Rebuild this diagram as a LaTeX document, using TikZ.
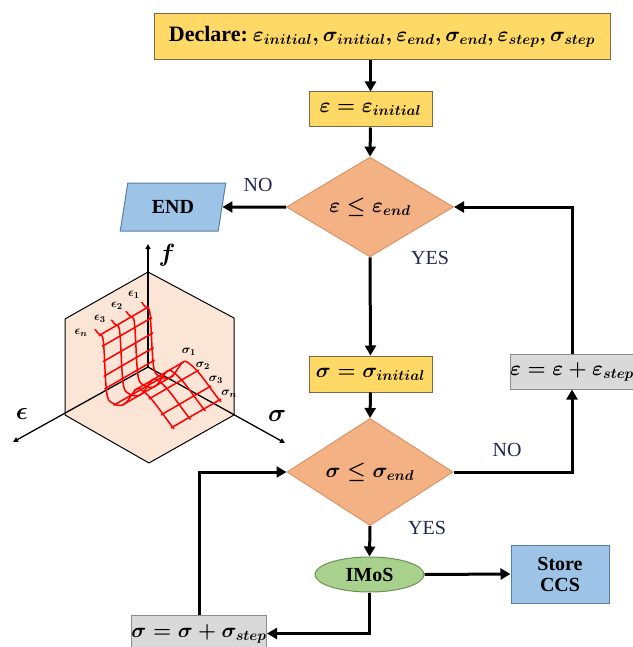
\documentclass[tikz,border=0pt]{standalone}
\usepackage{fontspec}
\setmainfont{Liberation Serif}
\usetikzlibrary{arrows.meta,shapes.geometric}
\definecolor{yfill}{HTML}{FFD966}
\definecolor{ydraw}{HTML}{7A6A45}
\definecolor{ofill}{HTML}{F4B183}
\definecolor{odraw}{HTML}{D9956A}
\definecolor{bfill}{HTML}{9DC3E6}
\definecolor{bdraw}{HTML}{5A7FA3}
\definecolor{gfill}{HTML}{D9D9D9}
\definecolor{gdraw}{HTML}{8C8C8C}
\definecolor{efill}{HTML}{A9D18E}
\definecolor{edraw}{HTML}{6F9055}
\definecolor{hexfill}{HTML}{FBE5D6}
\definecolor{lblcol}{HTML}{1F2850}
\tikzset{
  big/.style={font=\fontsize{20}{23}\selectfont\bfseries\boldmath},
  ybox/.style={big,rectangle,fill=yfill,draw=ydraw,line width=1pt,inner sep=2pt},
  gbox/.style={big,rectangle,fill=gfill,draw=gdraw,line width=1pt,inner sep=2pt},
  bbox/.style={big,rectangle,fill=bfill,draw=bdraw,line width=1pt,inner sep=2pt},
  dia/.style={big,diamond,fill=ofill,draw=odraw,line width=1pt,inner sep=0pt},
  arr/.style={line width=3pt,-{Triangle[width=11pt,length=10pt]}},
  lbl/.style={font=\fontsize{20}{23}\selectfont,text=lblcol,inner sep=0pt},
  small/.style={font=\fontsize{12.5}{13}\selectfont\boldmath,inner sep=0pt},
  axlbl/.style={font=\fontsize{26}{26}\selectfont\boldmath,inner sep=0pt},
  mesh/.style={red,line width=1.5pt,line join=round},
  declare function={
    cl(\s)=0.65/(1+(min(abs(\s)/0.075,3))^8);
    hw(\s)=(\s-0.5)/(0.15+0.25*(\s>0.5));
    hp(\s)=0.32*exp(-hw(\s)*hw(\s));
    hk(\s)=15*\s*\s*(\s<0);
    F(\s)=cl(\s)+hp(\s)+hk(\s);
  }
}
\begin{document}
\begin{tikzpicture}[x=1pt,y=-1pt]
\useasboundingbox (0,0) rectangle (632,647);

% ---------- flowchart nodes ----------
\node[ybox,minimum width=456pt,minimum height=46pt] (decl) at (382,37)
  {{\fontsize{22}{23}\selectfont Declare:}~$\varepsilon_{initial},\sigma_{initial},\varepsilon_{end},\sigma_{end},\varepsilon_{step},\sigma_{step}$};
\node[ybox,minimum width=123pt,minimum height=35pt] (eps0) at (370.5,109.5)
  {$\varepsilon=\varepsilon_{initial}$};
\node[dia,minimum width=167pt,minimum height=88pt] (d1) at (370,207)
  {$\varepsilon\leq\varepsilon_{end}$};
\node[big,trapezium,trapezium left angle=75,trapezium right angle=105,trapezium stretches=true,
      minimum width=106pt,minimum height=48pt,fill=bfill,draw=bdraw,line width=1pt,inner sep=0pt] (endn) at (173,207) {END};
\node[ybox,minimum width=123pt,minimum height=36pt] (sinit) at (370.5,374)
  {$\sigma=\sigma_{initial}$};
\node[gbox,minimum width=124pt,minimum height=35pt,inner xsep=0pt] (estep) at (572,371.5)
  {$\varepsilon=\varepsilon+\varepsilon_{step}$};
\node[dia,minimum width=166pt,minimum height=89pt] (d2) at (370,472)
  {$\sigma\leq\sigma_{end}$};
\node[big,ellipse,minimum width=109pt,minimum height=35pt,fill=efill,draw=edraw,line width=1pt,inner sep=0pt] (imos) at (369.5,574.5) {IMoS};
\node[bbox,minimum width=98pt,minimum height=58pt,align=center] (store) at (560,574)
  {Store\\[-2pt]CCS};
\node[gbox,minimum width=130pt,minimum height=37pt,inner xsep=0pt] (sstep) at (199,633.5)
  {$\sigma=\sigma+\sigma_{step}$};

% ---------- connectors ----------
\draw[arr] (decl.south -| eps0.north) -- (eps0.north);
\draw[arr] (eps0.south) -- (d1.north);
\draw[arr] (d1.west) -- (endn);
\draw[arr] (d1.south) -- (sinit.north);
\draw[arr] (sinit.south) -- (d2.north);
\draw[arr] (d2.east) -| (estep.south);
\draw[arr] (estep.north) |- (d1.east);
\draw[arr] (d2.south) -- (imos.north);
\draw[arr] (imos.east) -- (store.west);
\draw[arr] (imos.south) |- (sstep.east);
\draw[arr] (sstep.north) |- (d2.west);

\node[lbl] (no1) at (258,185) {NO};
\node[lbl] (yes1) at (430,258) {YES};
\node[lbl] (no2) at (507,450) {NO};
\node[lbl] (yes2) at (427,528) {YES};

% ---------- 3D sketch ----------
\coordinate (O) at (148,367);
\coordinate (hT) at (148,272);
\coordinate (hUL) at (65,319);
\coordinate (hLL) at (65,415);
\coordinate (hB) at (149,463);
\coordinate (hLR) at (234,415);
\coordinate (hUR) at (234,318);
\coordinate (fa) at (148,244);
\coordinate (ea) at (13,442);
\coordinate (sa) at (285,443);
\fill[hexfill] (hT) -- (hUR) -- (hLR) -- (hB) -- (hLL) -- (hUL) -- cycle;
\draw[line width=1pt,line join=round] (hT) -- (hUR) -- (hLR) -- (hB) -- (hLL) -- (hUL) -- cycle;
\draw[line width=1.3pt,-{Triangle[width=5pt,length=5pt]}] (O) -- (fa);
\draw[line width=1.3pt,-{Triangle[width=5pt,length=5pt]}] (O) -- (ea);
\draw[line width=1.3pt,-{Triangle[width=5pt,length=5pt]}] (O) -- (sa);

% mesh: constant-epsilon curves
\foreach \e in {0.03,0.22,0.4,0.6}{
  \draw[mesh] plot[domain=-0.05:0.92,samples=200,variable=\s]
    ({148+82*(\s-\e)},{367-95*F(\s)+47.5*(\e+\s)});
}
% mesh: constant-sigma lines
\foreach \s in {0.02,0.06,0.0707,0.0795,0.09,0.2,0.32,0.45,0.63,0.78,0.9}{
  \draw[mesh] ({148+82*(\s-0.01)},{367-95*F(\s)+47.5*(0.01+\s)})
           -- ({148+82*(\s-0.62)},{367-95*F(\s)+47.5*(0.62+\s)});
}

\node[small] (le1) at (134,295) {$\epsilon_1$};
\node[small] (le2) at (117,306) {$\epsilon_2$};
\node[small] (le3) at (100,319) {$\epsilon_3$};
\node[small] (len) at (81,333) {$\epsilon_n$};
\node[small] (ls1) at (189,352) {$\sigma_1$};
\node[small] (ls2) at (203,366) {$\sigma_2$};
\node[small] (ls3) at (216,380) {$\sigma_3$};
\node[small] (lsn) at (229,394) {$\sigma_n$};

\node[axlbl] (lf) at (167,255) {$f$};
\node[axlbl] (le) at (22,414) {$\epsilon$};
\node[axlbl] (ls) at (277,416) {$\sigma$};
\end{tikzpicture}
\end{document}
